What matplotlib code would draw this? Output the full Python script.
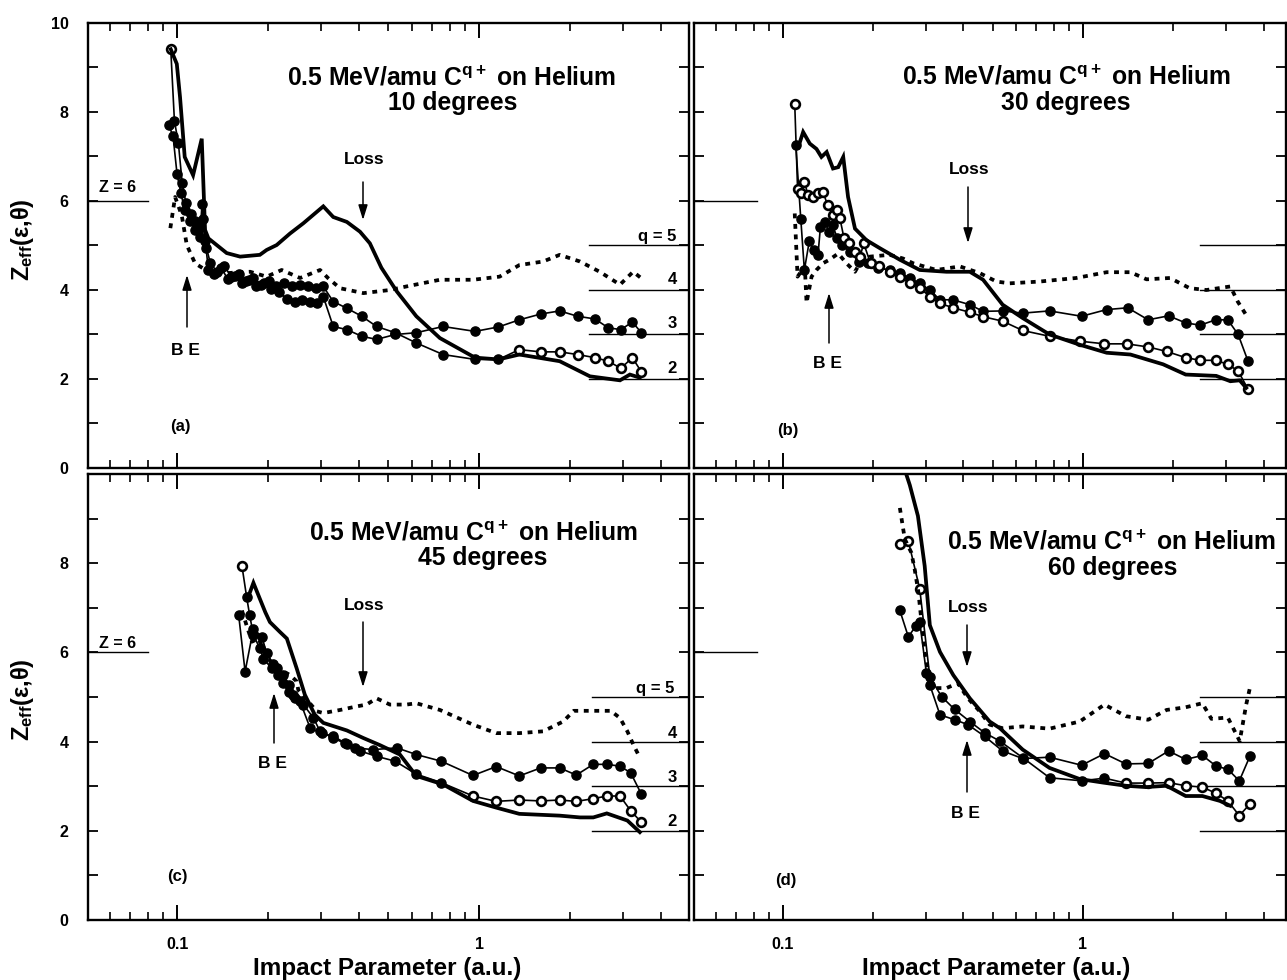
import numpy as np
import matplotlib
matplotlib.use("Agg")
import matplotlib.pyplot as plt
from matplotlib.ticker import FixedLocator, NullFormatter, FixedFormatter

plt.rcParams['font.family'] = ['Liberation Sans', 'DejaVu Sans']
plt.rcParams['font.weight'] = 'bold'
plt.rcParams['mathtext.fontset'] = 'custom'
plt.rcParams['mathtext.rm'] = 'Liberation Sans:bold'
plt.rcParams['mathtext.it'] = 'Liberation Sans:bold'
plt.rcParams['mathtext.bf'] = 'Liberation Sans:bold'
plt.rcParams['mathtext.sf'] = 'Liberation Sans:bold'

# ---------------- data ----------------
angles = ["10", "30", "45", "60"]
panel_tags = ["(a)", "(b)", "(c)", "(d)"]
q_levels = [5, 4, 3, 2]
z_level = 6
x_ticks = [0.1, 1]
x_tick_labels = ["0.1", "1"]
y_ticks = [0, 2, 4, 6, 8, 10]

# panel (a) 10 degrees
a_loss_x = [0.0953, 0.0998, 0.1023, 0.106, 0.113, 0.1207, 0.1238, 0.127, 0.146, 0.1617, 0.188, 0.198,
            0.2137, 0.2367, 0.262, 0.305, 0.329, 0.365, 0.4035, 0.435, 0.475, 0.534, 0.62, 0.742, 0.97,
            1.16, 1.36, 1.85, 2.33, 2.93, 3.16, 3.41]
a_loss_y = [9.41, 9.08, 8.33, 6.99, 6.58, 7.40, 5.35, 5.16, 4.83, 4.75, 4.79, 4.90, 5.01, 5.27, 5.50,
            5.88, 5.64, 5.53, 5.31, 5.05, 4.50, 3.97, 3.41, 2.92, 2.48, 2.44, 2.55, 2.40, 2.06, 1.97,
            2.10, 2.03]
a_dot_x = [0.095, 0.0985, 0.1036, 0.1077, 0.1147, 0.127, 0.146, 0.1745, 0.198, 0.222, 0.2555, 0.2975,
           0.316, 0.3465, 0.414, 0.507, 0.575, 0.742, 0.955, 1.17, 1.36, 1.63, 1.85, 2.16, 2.51, 2.93,
           3.24, 3.5]
a_dot_y = [5.39, 6.09, 5.68, 5.01, 4.60, 4.41, 4.38, 4.41, 4.30, 4.45, 4.27, 4.45, 4.27, 4.04, 3.93,
           4.00, 4.08, 4.23, 4.23, 4.30, 4.56, 4.64, 4.79, 4.64, 4.41, 4.12, 4.41, 4.23]
a_q3_x = [0.094, 0.097, 0.100, 0.103, 0.106, 0.110, 0.115, 0.119, 0.121, 0.124, 0.127, 0.133, 0.140,
          0.147, 0.155, 0.164, 0.173, 0.183, 0.194, 0.205, 0.218, 0.231, 0.245, 0.26, 0.276, 0.29,
          0.305, 0.329, 0.365, 0.409, 0.458, 0.528, 0.62, 0.76, 0.97, 1.16, 1.36, 1.6, 1.85, 2.12,
          2.42, 2.68, 2.95, 3.22, 3.45]
a_q3_y = [7.70, 7.45, 6.60, 6.17, 5.80, 5.55, 5.35, 5.20, 5.94, 5.10, 4.45, 4.35, 4.50, 4.25, 4.32,
          4.15, 4.22, 4.08, 4.15, 4.02, 3.95, 3.80, 3.74, 3.78, 3.74, 3.70, 3.85, 3.18, 3.11, 2.96,
          2.89, 3.00, 3.04, 3.18, 3.07, 3.17, 3.33, 3.46, 3.53, 3.41, 3.35, 3.15, 3.11, 3.28, 3.04]
a_q2_x = [0.0953, 0.098, 0.101, 0.104, 0.107, 0.111, 0.115, 0.119, 0.122, 0.125, 0.129, 0.136, 0.143,
          0.151, 0.160, 0.169, 0.179, 0.190, 0.201, 0.213, 0.226, 0.240, 0.255, 0.271, 0.288, 0.305,
          0.329, 0.365, 0.409, 0.458, 0.528, 0.62, 0.76, 0.97, 1.16, 1.36, 1.6, 1.85, 2.12, 2.42,
          2.68, 2.95, 3.22, 3.45]
a_q2_y = [9.41, 7.80, 7.30, 6.40, 5.95, 5.70, 5.55, 5.40, 5.60, 4.95, 4.60, 4.40, 4.55, 4.30, 4.35,
          4.20, 4.28, 4.12, 4.20, 4.10, 4.15, 4.08, 4.12, 4.10, 4.05, 4.08, 3.74, 3.59, 3.41, 3.18,
          3.04, 2.81, 2.55, 2.44, 2.44, 2.66, 2.61, 2.61, 2.55, 2.48, 2.40, 2.24, 2.48, 2.16]

# panel (b) 30 degrees
b_loss_x = [0.1125, 0.1169, 0.123, 0.1295, 0.1345, 0.140, 0.147, 0.153, 0.159, 0.165, 0.174, 0.190,
            0.2105, 0.2455, 0.286, 0.351, 0.42, 0.465, 0.54, 0.63, 0.774, 0.976, 1.2, 1.44, 1.85,
            2.2, 2.78, 3.1, 3.33, 3.5]
b_loss_y = [7.20, 7.55, 7.29, 7.17, 6.99, 7.10, 6.73, 6.76, 6.99, 6.09, 5.38, 5.12, 4.94, 4.68, 4.45,
            4.41, 4.41, 4.23, 3.67, 3.37, 3.00, 2.77, 2.59, 2.55, 2.33, 2.10, 2.07, 1.95, 1.97, 1.80]
b_dot_x = [0.1096, 0.112, 0.1184, 0.120, 0.1247, 0.1295, 0.136, 0.143, 0.153, 0.163, 0.174, 0.1805,
           0.195, 0.227, 0.251, 0.272, 0.325, 0.389, 0.453, 0.515, 0.57, 0.718, 0.95, 1.2, 1.44,
           1.63, 1.95, 2.27, 2.58, 3.1, 3.28, 3.55]
b_dot_y = [5.72, 4.30, 4.53, 3.71, 4.30, 4.45, 4.60, 4.68, 4.82, 4.60, 4.41, 4.60, 4.75, 4.79, 4.71,
           4.60, 4.45, 4.53, 4.38, 4.19, 4.15, 4.19, 4.27, 4.40, 4.40, 4.24, 4.27, 4.04, 4.00, 4.08,
           3.74, 3.37]
b_q3_x = [0.1105, 0.1148, 0.118, 0.1225, 0.127, 0.131, 0.1335, 0.138, 0.1425, 0.1465, 0.152, 0.158,
          0.167, 0.180, 0.193, 0.207, 0.227, 0.2455, 0.265, 0.286, 0.309, 0.334, 0.369, 0.42, 0.465,
          0.54, 0.63, 0.774, 0.99, 1.2, 1.41, 1.65, 1.93, 2.2, 2.46, 2.77, 3.04, 3.29, 3.55]
b_q3_y = [7.25, 5.60, 4.45, 5.09, 4.90, 4.79, 5.42, 5.53, 5.31, 5.46, 5.16, 5.01, 4.86, 4.64, 4.60,
          4.49, 4.45, 4.38, 4.27, 4.15, 4.00, 3.78, 3.78, 3.67, 3.52, 3.53, 3.48, 3.53, 3.41, 3.56,
          3.60, 3.33, 3.42, 3.26, 3.21, 3.33, 3.33, 3.00, 2.40]
b_q2_x = [0.1096, 0.112, 0.115, 0.118, 0.1215, 0.1265, 0.131, 0.136, 0.141, 0.1475, 0.151, 0.155,
          0.160, 0.166, 0.174, 0.181, 0.186, 0.196, 0.21, 0.227, 0.245, 0.265, 0.286, 0.309, 0.334,
          0.369, 0.42, 0.465, 0.54, 0.63, 0.774, 0.976, 1.18, 1.4, 1.65, 1.9, 2.2, 2.46, 2.77, 3.04,
          3.29, 3.55]
b_q2_y = [8.18, 6.28, 6.17, 6.43, 6.13, 6.09, 6.17, 6.21, 5.91, 5.68, 5.79, 5.61, 5.16, 5.05, 4.86,
          4.75, 5.05, 4.60, 4.55, 4.40, 4.30, 4.15, 4.05, 3.85, 3.70, 3.60, 3.50, 3.40, 3.30, 3.09,
          2.96, 2.85, 2.79, 2.79, 2.72, 2.62, 2.48, 2.42, 2.42, 2.33, 2.18, 1.77]

# panel (c) 45 degrees
c_loss_x = [0.172, 0.179, 0.186, 0.196, 0.203, 0.219, 0.231, 0.249, 0.265, 0.286, 0.305, 0.365, 0.414,
            0.47, 0.547, 0.62, 0.76, 0.955, 1.14, 1.36, 1.85, 2.16, 2.39, 2.65, 3.1, 3.41]
c_loss_y = [7.24, 7.56, 7.28, 6.90, 6.68, 6.46, 6.31, 5.64, 5.05, 4.60, 4.42, 4.25, 4.08, 3.92, 3.71,
            3.23, 3.04, 2.67, 2.52, 2.38, 2.34, 2.30, 2.30, 2.39, 2.23, 1.97]
c_dot_x = [0.164, 0.170, 0.177, 0.186, 0.198, 0.211, 0.237, 0.249, 0.252, 0.272, 0.29, 0.305, 0.347,
           0.394, 0.424, 0.458, 0.507, 0.575, 0.62, 0.742, 0.955, 1.14, 1.36, 1.63, 1.9, 2.06, 2.39,
           2.73, 2.93, 3.1, 3.24, 3.41]
c_dot_y = [6.94, 6.60, 6.24, 6.31, 5.90, 5.68, 5.49, 5.35, 5.16, 4.90, 4.68, 4.64, 4.71, 4.79, 4.83,
           4.97, 4.83, 4.83, 4.86, 4.71, 4.38, 4.19, 4.19, 4.23, 4.45, 4.69, 4.69, 4.69, 4.53, 4.23,
           3.94, 3.64]
c_q3_x = [0.160, 0.168, 0.179, 0.191, 0.198, 0.208, 0.2135, 0.225, 0.234, 0.243, 0.2555, 0.276, 0.301,
          0.329, 0.36, 0.388, 0.446, 0.534, 0.62, 0.75, 0.955, 1.14, 1.36, 1.6, 1.85, 2.1, 2.39, 2.65,
          2.93, 3.18, 3.45]
c_q3_y = [6.83, 5.57, 6.53, 6.35, 5.98, 5.75, 5.64, 5.49, 5.27, 5.05, 4.90, 4.30, 4.19, 4.12, 3.97,
          3.86, 3.82, 3.86, 3.71, 3.56, 3.24, 3.44, 3.23, 3.41, 3.41, 3.25, 3.49, 3.49, 3.45, 3.30,
          2.82]
c_q2_x = [0.164, 0.17, 0.174, 0.179, 0.188, 0.193, 0.206, 0.216, 0.225, 0.234, 0.246, 0.262, 0.283,
          0.2975, 0.329, 0.365, 0.4035, 0.458, 0.528, 0.62, 0.75, 0.955, 1.14, 1.36, 1.6, 1.85, 2.1,
          2.39, 2.65, 2.93, 3.18, 3.45]
c_q2_y = [7.94, 7.24, 6.83, 6.39, 6.09, 5.86, 5.64, 5.49, 5.31, 5.12, 4.97, 4.83, 4.53, 4.23, 4.08,
          3.94, 3.79, 3.67, 3.56, 3.27, 3.08, 2.78, 2.66, 2.69, 2.67, 2.69, 2.66, 2.72, 2.78, 2.78,
          2.45, 2.19]

# panel (d) 60 degrees
d_loss_x = [0.252, 0.265, 0.282, 0.297, 0.309, 0.334, 0.37, 0.42, 0.489, 0.529, 0.63, 0.774, 0.976,
            1.17, 1.39, 1.62, 1.9, 2.2, 2.5, 2.86, 3.1]
d_loss_y = [10.2, 9.75, 9.06, 7.94, 6.61, 6.01, 5.49, 4.97, 4.45, 4.30, 3.82, 3.41, 3.16, 3.08, 3.01,
            2.98, 3.01, 2.78, 2.78, 2.67, 2.56]
d_dot_x = [0.2455, 0.255, 0.268, 0.275, 0.283, 0.29, 0.297, 0.305, 0.312, 0.351, 0.383, 0.414, 0.453,
           0.489, 0.54, 0.63, 0.774, 0.976, 1.18, 1.39, 1.65, 1.9, 2.2, 2.5, 2.68, 3.04, 3.33, 3.5,
           3.6]
d_dot_y = [9.24, 8.54, 8.24, 7.87, 7.35, 6.68, 6.01, 5.57, 5.20, 5.20, 5.31, 4.97, 4.68, 4.38, 4.30,
           4.34, 4.29, 4.45, 4.83, 4.57, 4.49, 4.71, 4.77, 4.86, 4.51, 4.54, 4.01, 4.83, 5.20]
d_q3_x = [0.2455, 0.262, 0.278, 0.286, 0.301, 0.309, 0.334, 0.374, 0.414, 0.47, 0.54, 0.63, 0.774,
          0.99, 1.18, 1.39, 1.65, 1.93, 2.2, 2.5, 2.78, 3.04, 3.32, 3.6]
d_q3_y = [6.94, 6.35, 6.60, 6.68, 5.53, 5.27, 4.60, 4.49, 4.38, 4.12, 3.79, 3.62, 3.65, 3.47, 3.73,
          3.50, 3.51, 3.79, 3.60, 3.69, 3.45, 3.38, 3.12, 3.67]
d_q2_x = [0.2455, 0.262, 0.286, 0.309, 0.338, 0.374, 0.42, 0.47, 0.529, 0.63, 0.774, 0.99, 1.18, 1.39,
          1.65, 1.93, 2.2, 2.5, 2.78, 3.04, 3.32, 3.6]
d_q2_y = [8.43, 8.50, 7.42, 5.45, 5.01, 4.72, 4.45, 4.20, 4.01, 3.64, 3.19, 3.12, 3.18, 3.07, 3.07,
          3.08, 3.01, 2.98, 2.84, 2.67, 2.34, 2.60]

# ---------------- layout / style ----------------
W, H = 1287, 980
fig = plt.figure(figsize=(W / 100, H / 100), dpi=100)
fig.patch.set_facecolor('white')


def rect(l, r, t, b):
    return [l / W, 1 - b / H, (r - l) / W, (b - t) / H]


def ftext(x, y, s, size, **kw):
    fig.text(x / W, 1 - y / H, s, fontsize=size, fontweight='bold', ha=kw.pop('ha', 'center'),
             va=kw.pop('va', 'center'), **kw)


def farrow(x0, y0, x1, y1):
    fig.add_artist(matplotlib.patches.FancyArrowPatch(
        (x0 / W, 1 - y0 / H), (x1 / W, 1 - y1 / H), transform=fig.transFigure,
        arrowstyle='-|>,head_length=0.9,head_width=0.28', mutation_scale=10,
        lw=1.1, color='black', shrinkA=0, shrinkB=0))


panels = [
    dict(rect=rect(88, 689, 23, 468), xlim=(0.0507, 4.96), left=True, bottom=False,
         series=(a_loss_x, a_loss_y, a_dot_x, a_dot_y, a_q3_x, a_q3_y, a_q2_x, a_q2_y),
         open_first=1, open_from=1.3, qline_from=0.834, zline_to=0.10,
         title=(452, 78, 453, 103), loss=(364, 160, 182, 220), be=(185, 350, 327, 275),
         tag=(180, 427), zlab=(118, 188), qlab=(657, 280, 323, 368, 237)),
    dict(rect=rect(694, 1286, 23, 468), xlim=(0.0506, 4.75), left=False, bottom=False,
         series=(b_loss_x, b_loss_y, b_dot_x, b_dot_y, b_q3_x, b_q3_y, b_q2_x, b_q2_y),
         open_first=100, open_from=0.0, qline_from=0.855, zline_to=0.106,
         title=(1067, 77, 1066, 103), loss=(969, 169, 187, 243), be=(827, 363, 343, 293),
         tag=(788, 430), zlab=None, qlab=None),
    dict(rect=rect(88, 689, 474, 920), xlim=(0.0507, 4.96), left=True, bottom=True,
         series=(c_loss_x, c_loss_y, c_dot_x, c_dot_y, c_q3_x, c_q3_y, c_q2_x, c_q2_y),
         open_first=1, open_from=0.9, qline_from=0.839, zline_to=0.10,
         title=(474, 533, 483, 558), loss=(364, 605, 622, 687), be=(272, 763, 743, 693),
         tag=(177, 877), zlab=(118, 643), qlab=(655, 733, 777, 822, 688)),
    dict(rect=rect(694, 1286, 474, 920), xlim=(0.0506, 4.75), left=False, bottom=True,
         series=(d_loss_x, d_loss_y, d_dot_x, d_dot_y, d_q3_x, d_q3_y, d_q2_x, d_q2_y),
         open_first=3, open_from=1.3, qline_from=0.855, zline_to=0.106,
         title=(1112, 542, 1113, 568), loss=(968, 607, 625, 667), be=(965, 813, 792, 740),
         tag=(786, 880), zlab=None, qlab=None),
]

for i, p in enumerate(panels):
    ax = fig.add_axes(p['rect'])
    ax.set_xscale('log')
    ax.set_xlim(*p['xlim'])
    ax.set_ylim(0, 10)
    lx, ly, dx, dy, q3x, q3y, q2x, q2y = [np.asarray(v) for v in p['series']]

    # marker series
    ax.plot(q3x, q3y, '-', color='black', lw=1.2, zorder=3)
    ax.plot(q3x, q3y, 'o', ms=6.6, mfc='black', mec='black', mew=1.0, zorder=4)
    ax.plot(q2x, q2y, '-', color='black', lw=1.2, zorder=3)
    idx = np.arange(len(q2x))
    open_mask = (idx < p['open_first']) | (q2x >= p['open_from'])
    ax.plot(q2x[~open_mask], q2y[~open_mask], 'o', ms=6.6, mfc='black', mec='black', mew=1.0, zorder=4)
    ax.plot(q2x[open_mask], q2y[open_mask], 'o', ms=6.3, mfc='white', mec='black', mew=1.9, zorder=5)
    # thick solid and dotted curves
    ax.plot(lx, ly, '-', color='black', lw=2.7, zorder=6, solid_joinstyle='miter')
    ax.plot(dx, dy, color='black', lw=2.7, dashes=(1.3, 1.5), zorder=6)

    # reference levels
    ax.axhline(z_level, 0, p['zline_to'], color='black', lw=1.0)
    for q in q_levels:
        ax.axhline(q, p['qline_from'], 1.0, color='black', lw=1.0)

    # ticks
    ax.xaxis.set_major_locator(FixedLocator(x_ticks))
    minors = [m * 10.0 ** e for e in (-2, -1, 0) for m in range(2, 10)]
    ax.xaxis.set_minor_locator(FixedLocator(minors))
    ax.xaxis.set_minor_formatter(NullFormatter())
    if p['bottom']:
        ax.xaxis.set_major_formatter(FixedFormatter(x_tick_labels))
    else:
        ax.xaxis.set_major_formatter(NullFormatter())
    ax.yaxis.set_major_locator(FixedLocator(y_ticks))
    ax.yaxis.set_minor_locator(FixedLocator([1, 3, 5, 7, 9]))
    if p['left']:
        labs = [str(v) for v in y_ticks]
        if p['bottom']:
            labs[-1] = ''
        ax.yaxis.set_major_formatter(FixedFormatter(labs))
    else:
        ax.yaxis.set_major_formatter(NullFormatter())
    ax.tick_params(which='both', direction='in', top=True, right=True, colors='black')
    ax.tick_params(axis='x', which='major', length=11, width=1.4, pad=12, labelsize=11.5)
    ax.tick_params(axis='x', which='minor', length=6, width=1.2)
    ax.tick_params(axis='y', which='both', length=7, width=1.3, pad=14, labelsize=11.5)
    for lab in ax.get_xticklabels() + ax.get_yticklabels():
        lab.set_fontweight('bold')
    for s in ax.spines.values():
        s.set_linewidth(1.7)

    # annotations
    t = p['title']
    ftext(t[0], t[1], "0.5 MeV/amu C$^{q+}$ on Helium", 17.8)
    ftext(t[2], t[3], f"{angles[i]} degrees", 17.8)
    lo = p['loss']
    ftext(lo[0], lo[1], "Loss", 12.5)
    farrow(lo[0] - 1, lo[2], lo[0] - 1, lo[3])
    be = p['be']
    ftext(be[0], be[1], "B E", 12.5)
    farrow(be[0] + 2, be[2], be[0] + 2, be[3])
    ftext(p['tag'][0], p['tag'][1], panel_tags[i], 12)
    if p['zlab']:
        ftext(p['zlab'][0], p['zlab'][1], f"Z = {z_level}", 11.5)
    if p['qlab']:
        ql = p['qlab']
        ftext(ql[0], ql[4], f"q = {q_levels[0]}", 12)
        for q, yy in zip(q_levels[1:], ql[1:4]):
            ftext(672, yy, str(q), 12)

# axis labels
for yy in (240, 700):
    ftext(22, yy, "Z$_{eff}$(ε,θ)", 17, rotation=90)
for xx in (387, 996):
    ftext(xx, 968, "Impact Parameter (a.u.)", 17.5)

fig.savefig("out.png", dpi=100, facecolor='white')
